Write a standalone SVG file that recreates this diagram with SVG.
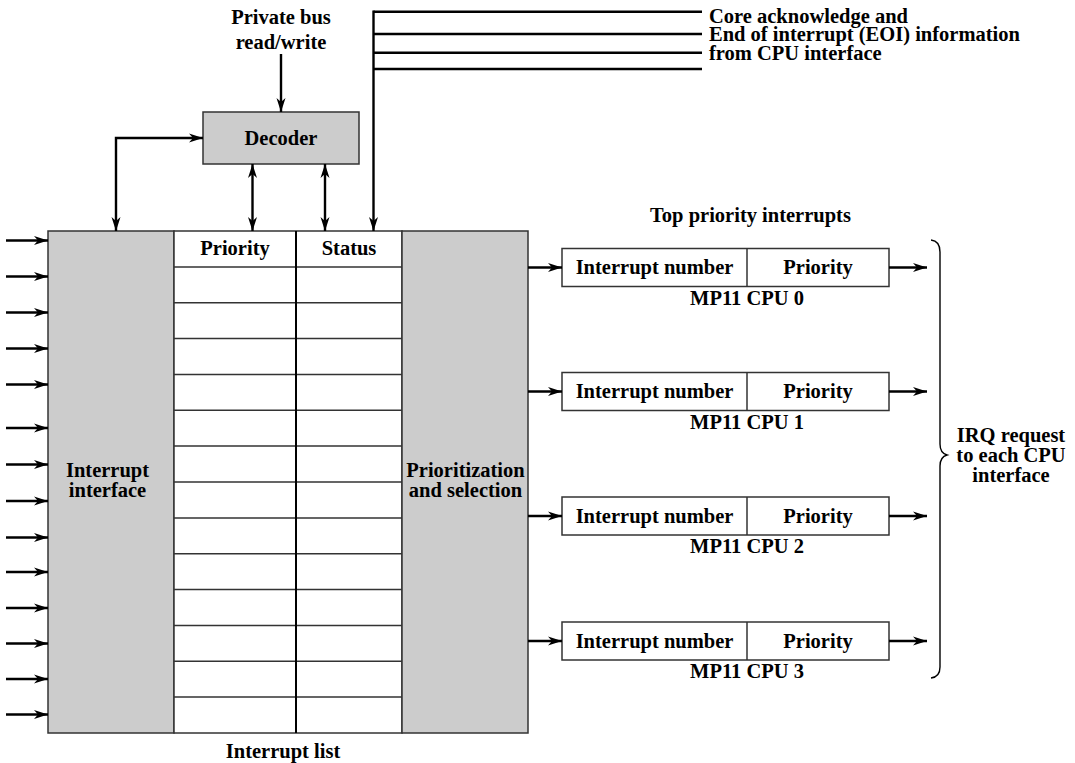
<svg xmlns="http://www.w3.org/2000/svg" width="1075" height="763" viewBox="0 0 1075 763">
<defs>
<style>
text{font-family:"Liberation Serif","Times New Roman",serif;font-weight:bold;font-size:20.5px;fill:#000}
.c{text-anchor:middle}
.gray{fill:#cccccc;stroke:#333;stroke-width:1.5}
.cell{fill:#fff;stroke:#333;stroke-width:1.5}
.row{stroke:#333;stroke-width:1.5;fill:none}
.ln{stroke:#000;stroke-width:2.4;fill:none}
.a{marker-end:url(#ah)}
.b{marker-start:url(#ah);marker-end:url(#ah)}
</style>
<marker id="ah" markerWidth="14" markerHeight="10" refX="14" refY="5" orient="auto-start-reverse" markerUnits="userSpaceOnUse"><path d="M0,0.5 L14,5 L0,9.5 L4,5 z" fill="#000"/></marker>
</defs>
<rect width="1075" height="763" fill="#fff"/>

<g id="private-bus-label">
<text class="c" x="281" y="24">Private bus</text>
<text class="c" x="281" y="48.5">read/write</text>
</g>

<g id="eoi-label">
<text x="709" y="22.5">Core acknowledge and</text>
<text x="709" y="41">End of interrupt (EOI) information</text>
<text x="709" y="59.5">from CPU interface</text>
</g>

<g id="decoder">
<rect class="gray" x="203" y="112" width="156" height="52"/>
<text class="c" x="281" y="145">Decoder</text>
</g>

<g id="interrupt-interface">
<rect class="gray" x="48" y="231" width="126" height="502"/>
<text class="c" x="107.5" y="477.3">Interrupt</text>
<text class="c" x="107.5" y="496.7">interface</text>
</g>

<g id="interrupt-list">
<rect class="cell" x="174" y="231" width="228" height="502"/>
<path class="row" d="M174,266.9H402M174,302.7H402M174,338.6H402M174,374.4H402M174,410.3H402M174,446.1H402M174,482H402M174,517.9H402M174,553.7H402M174,589.6H402M174,625.4H402M174,661.3H402M174,697.1H402"/>
<line x1="296" y1="231" x2="296" y2="733" stroke="#000" stroke-width="2"/>
<text class="c" x="235" y="254.5">Priority</text>
<text class="c" x="349" y="254.5">Status</text>
<text class="c" x="283" y="758">Interrupt list</text>
</g>

<g id="prioritization">
<rect class="gray" x="402" y="231" width="126" height="502"/>
<text class="c" x="465.5" y="477.3">Prioritization</text>
<text class="c" x="465.5" y="496.7">and selection</text>
</g>

<text id="top-priority-label" class="c" x="750.5" y="222.3">Top priority interrupts</text>

<g id="cpu0">
<rect class="cell" x="562" y="248.5" width="327" height="38"/>
<line class="row" x1="747" y1="248.5" x2="747" y2="286.5"/>
<text class="c" x="654.5" y="274">Interrupt number</text>
<text class="c" x="818" y="274">Priority</text>
<text class="c" x="747" y="304.5">MP11 CPU 0</text>
</g>
<g id="cpu1">
<rect class="cell" x="562" y="372.5" width="327" height="38"/>
<line class="row" x1="747" y1="372.5" x2="747" y2="410.5"/>
<text class="c" x="654.5" y="398">Interrupt number</text>
<text class="c" x="818" y="398">Priority</text>
<text class="c" x="747" y="428.5">MP11 CPU 1</text>
</g>
<g id="cpu2">
<rect class="cell" x="562" y="497" width="327" height="38"/>
<line class="row" x1="747" y1="497" x2="747" y2="535"/>
<text class="c" x="654.5" y="522.5">Interrupt number</text>
<text class="c" x="818" y="522.5">Priority</text>
<text class="c" x="747" y="553">MP11 CPU 2</text>
</g>
<g id="cpu3">
<rect class="cell" x="562" y="622" width="327" height="38"/>
<line class="row" x1="747" y1="622" x2="747" y2="660"/>
<text class="c" x="654.5" y="647.5">Interrupt number</text>
<text class="c" x="818" y="647.5">Priority</text>
<text class="c" x="747" y="678">MP11 CPU 3</text>
</g>

<g id="irq-label">
<path d="M931,240 Q940,241 940,252 L940,444 Q940,453 947,455 Q940,457 940,466 L940,667 Q940,677 931,678" fill="none" stroke="#000" stroke-width="1.4"/>
<text class="c" x="1011" y="442">IRQ request</text>
<text class="c" x="1011" y="462">to each CPU</text>
<text class="c" x="1011" y="482">interface</text>
</g>

<g id="connectors">
<path class="ln a" d="M281,54V112"/>
<path class="ln b" d="M203,138H116V231"/>
<path class="ln b" d="M252.5,164V231"/>
<path class="ln b" d="M325,164V231"/>
<path class="ln" d="M373.5,11.7H702M373.5,34H702M373.5,52.7H702M373.5,69H702"/>
<path class="ln a" d="M373.5,10.5V231"/>
<path class="ln a" d="M6,240.5H48"/>
<path class="ln a" d="M6,276.5H48"/>
<path class="ln a" d="M6,312.5H48"/>
<path class="ln a" d="M6,348.5H48"/>
<path class="ln a" d="M6,384.5H48"/>
<path class="ln a" d="M6,428H48"/>
<path class="ln a" d="M6,464.5H48"/>
<path class="ln a" d="M6,501H48"/>
<path class="ln a" d="M6,537.5H48"/>
<path class="ln a" d="M6,572H48"/>
<path class="ln a" d="M6,608H48"/>
<path class="ln a" d="M6,643.5H48"/>
<path class="ln a" d="M6,679H48"/>
<path class="ln a" d="M6,714.5H48"/>
<path class="ln a" d="M528,267.5H562"/>
<path class="ln a" d="M528,391.5H562"/>
<path class="ln a" d="M528,516H562"/>
<path class="ln a" d="M528,641H562"/>
<path class="ln a" d="M889,267.5H927"/>
<path class="ln a" d="M889,391.5H927"/>
<path class="ln a" d="M889,516H927"/>
<path class="ln a" d="M889,641H927"/>
</g>
</svg>
